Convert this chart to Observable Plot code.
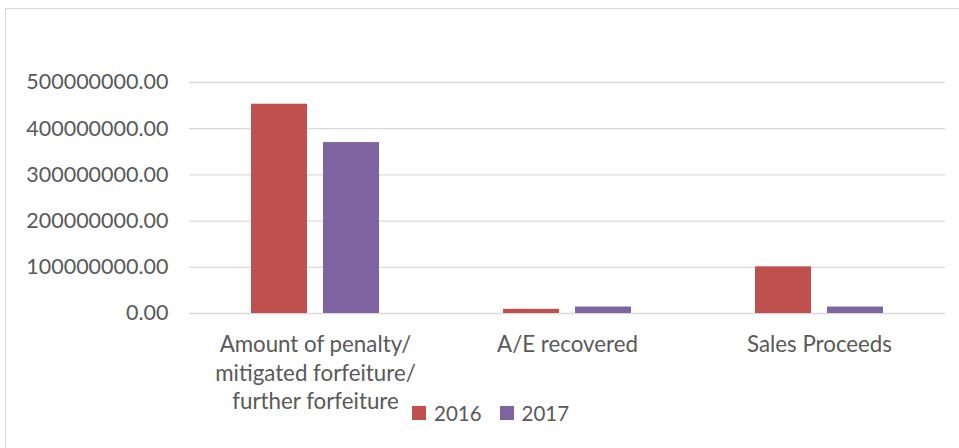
<!DOCTYPE html>
<html>
<head>
<meta charset="utf-8">
<script src="https://cdn.jsdelivr.net/npm/d3@7"></script>
<script src="https://cdn.jsdelivr.net/npm/@observablehq/plot@0.6"></script>
<style>
  html, body { margin: 0; padding: 0; background: #fff; }
  #wrap { position: relative; width: 959px; height: 448px; overflow: hidden; background: #fff; }
  #border { position: absolute; left: 5px; top: 7.5px; width: 1000px; height: 500px; border: 1.5px solid #d9d9d9; box-sizing: border-box; pointer-events: none; }
  #chart { position: absolute; left: 0; top: 0; }
  #legend { position: absolute; top: 401px; left: 412px; display: flex; align-items: center; font-family: Lato, sans-serif; font-size: 20.5px; color: #595959; }
  #legend .item { display: flex; align-items: center; margin-right: 18px; }
  #legend .sw { width: 14px; height: 14px; margin-right: 8px; }
</style>
</head>
<body>
<div id="wrap">
  <div id="border"></div>
  <div id="chart"></div>
  <div id="legend"></div>
</div>
<script>
const categories = ["Amount of penalty/ mitigated forfeiture/ further forfeiture", "A/E recovered", "Sales Proceeds"];
const categoryLines = [["Amount of penalty/", "mitigated forfeiture/", "further forfeiture"], ["A/E recovered"], ["Sales Proceeds"]];
const years = ["2016", "2017"];
const values2016 = [453000000, 9000000, 101000000];
const values2017 = [370000000, 14000000, 14000000];
const yTicks = [0, 100000000, 200000000, 300000000, 400000000, 500000000];
const colors = ["#C0504D", "#8064A2"];

const data = [];
categories.forEach((c, i) => {
  data.push({category: c, year: years[0], value: values2016[i]});
  data.push({category: c, year: years[1], value: values2017[i]});
});

const chart = Plot.plot({
  width: 959,
  height: 448,
  marginLeft: 188,
  marginRight: 14,
  marginTop: 82,
  marginBottom: 135,
  style: {fontFamily: "Lato, sans-serif", fontSize: "21px", color: "#595959", background: "transparent", overflow: "visible"},
  fx: {domain: categories, padding: 0, label: null, axis: null},
  x: {domain: years, paddingInner: 0.222, paddingOuter: 0.861, axis: null},
  y: {domain: [0, 500000000], axis: null},
  color: {domain: years, range: colors},
  marks: [
    Plot.gridY(yTicks, {stroke: "#d9d9d9", strokeOpacity: 1, strokeWidth: 1.3}),
    Plot.barY(data, {fx: "category", x: "year", y: "value", fill: "year", insetLeft: 0, insetRight: 0}),
    Plot.axisY({ticks: yTicks, tickFormat: d => d.toFixed(2), tickSize: 0, tickPadding: 21, label: null, fill: "#595959", fontSize: 21.5}),
    Plot.axisFx({anchor: "bottom", tickSize: 0, tickPadding: 19, label: null, lineHeight: 1.26, fill: "#595959", fontSize: 22.3,
      tickFormat: c => categoryLines[categories.indexOf(c)].join("\n")})
  ]
});
document.getElementById("chart").appendChild(chart);

const legend = document.getElementById("legend");
years.forEach((y, i) => {
  const item = document.createElement("div");
  item.className = "item";
  const sw = document.createElement("div");
  sw.className = "sw";
  sw.style.background = colors[i];
  const t = document.createElement("span");
  t.textContent = y;
  item.appendChild(sw);
  item.appendChild(t);
  legend.appendChild(item);
});
</script>
</body>
</html>
